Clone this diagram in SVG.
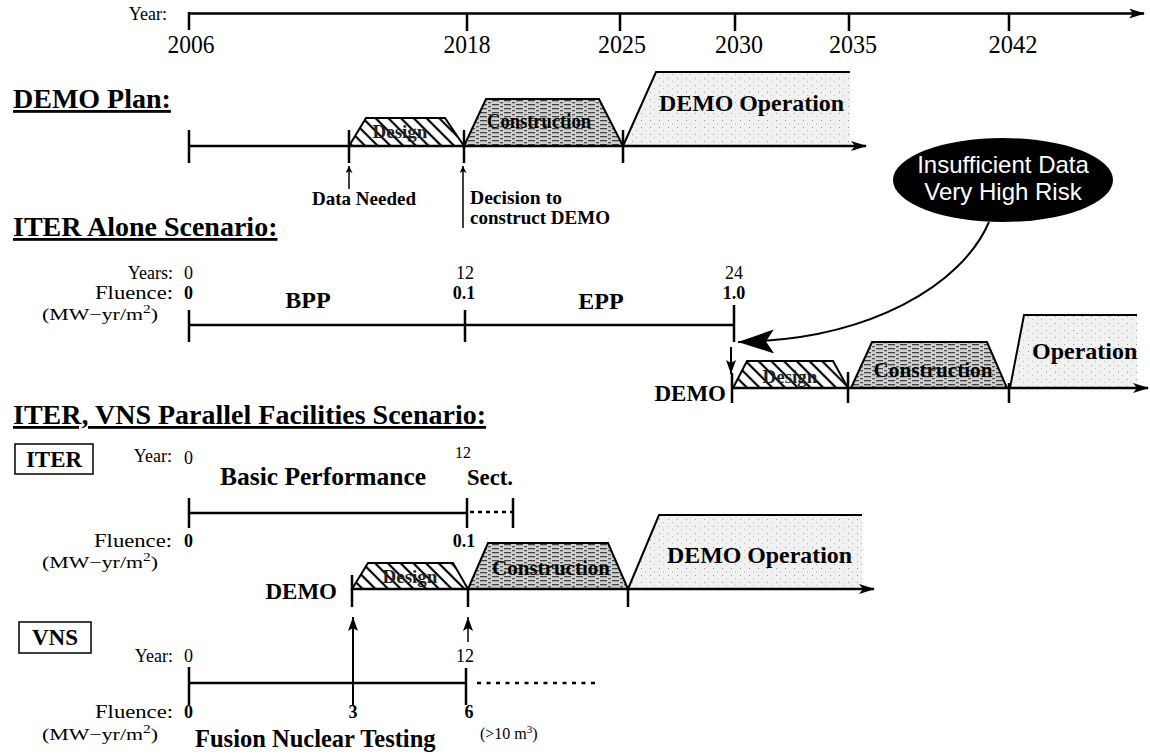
<svg xmlns="http://www.w3.org/2000/svg" width="1150" height="754" viewBox="0 0 1150 754">
<defs>
<style>
text{font-family:"Liberation Serif","Times New Roman",serif;fill:#000}
.b{font-weight:bold}
.yr{font-size:25px;text-anchor:middle}
.lab{font-size:18px}
.r{text-anchor:end}
.m{text-anchor:middle}
.title{font-size:28px;font-weight:bold;text-decoration:underline}
.ax{stroke:#000;stroke-width:2.5;fill:none}
.tk{stroke:#000;stroke-width:2.5;fill:none}
.edge{stroke:#000;stroke-width:2;fill:none}
.sans{font-family:"Liberation Sans",Arial,sans-serif;fill:#fff;font-size:24px;text-anchor:middle}
.des{fill:url(#hatch)}
.con{fill:url(#dots)}
.op{fill:url(#speck)}
.box{fill:#fff;stroke:#000;stroke-width:1.5}
.dl{font-size:19px;font-weight:bold;fill:#222}
.unit{font-size:17px}
</style>
<pattern id="hatch" patternUnits="userSpaceOnUse" width="9" height="9" patternTransform="rotate(-45)">
<rect width="9" height="9" fill="#fff"/>
<line x1="2" y1="0" x2="2" y2="9" stroke="#000" stroke-width="2.2"/>
</pattern>
<pattern id="dots" patternUnits="userSpaceOnUse" width="12" height="4">
<rect width="12" height="4" fill="#d0d0d0"/>
<rect x="0" y="0" width="7" height="1.3" fill="#444"/>
<rect x="8" y="2" width="3" height="1.3" fill="#555"/>
</pattern>
<pattern id="speck" patternUnits="userSpaceOnUse" width="9" height="7">
<rect width="9" height="7" fill="#f1f1f1"/>
<rect x="2" y="1" width="1" height="1" fill="#999"/>
<rect x="6" y="4" width="1" height="1" fill="#bbb"/>
</pattern>
<marker id="ah" viewBox="0 0 16 10" refX="15" refY="5" markerWidth="16" markerHeight="10" markerUnits="userSpaceOnUse" orient="auto">
<path d="M0,0 L16,5 L0,10 L4,5 z" fill="#000"/>
</marker>
<marker id="ahs" viewBox="0 0 8 8" refX="8" refY="4" markerWidth="8" markerHeight="7" markerUnits="userSpaceOnUse" orient="auto">
<path d="M0,0 L8,4 L0,8 L2,4 z" fill="#000"/>
</marker>
<marker id="ahm" viewBox="0 0 14 10" refX="14" refY="5" markerWidth="14" markerHeight="10" markerUnits="userSpaceOnUse" orient="auto">
<path d="M0,0 L14,5 L0,10 L3,5 z" fill="#000"/>
</marker>
<marker id="ahb" viewBox="0 0 36 24" refX="36" refY="12" markerWidth="36" markerHeight="24" markerUnits="userSpaceOnUse" orient="auto">
<path d="M0,0 L36,12 L0,24 L8,12 z" fill="#000"/>
</marker>
</defs>

<g id="year-axis">
<text x="167" y="20" font-size="18" class="r">Year:</text>
<line x1="189" y1="13.5" x2="1144" y2="13.5" class="ax" marker-end="url(#ah)"/>
<path d="M189,12 V30 M467,13 V31 M620,13 V31 M735,13 V31 M849,13 V31 M1009,13 V31" class="tk"/>
<text x="191" y="53" class="yr" textLength="47" lengthAdjust="spacingAndGlyphs">2006</text>
<text x="467" y="53" class="yr" textLength="47" lengthAdjust="spacingAndGlyphs">2018</text>
<text x="622" y="53" class="yr" textLength="48" lengthAdjust="spacingAndGlyphs">2025</text>
<text x="739" y="53" class="yr" textLength="48" lengthAdjust="spacingAndGlyphs">2030</text>
<text x="853" y="53" class="yr" textLength="48" lengthAdjust="spacingAndGlyphs">2035</text>
<text x="1013" y="53" class="yr" textLength="49" lengthAdjust="spacingAndGlyphs">2042</text>
</g>

<g id="demo-plan">
<text x="13" y="108" class="title">DEMO Plan:</text>
<polygon points="623,146 656,72 850,72 850,146" class="op"/>
<polyline points="623,146 656,72 850,72" class="edge"/>
<polygon points="349,146 366,118 445,118 464,146" class="des"/>
<polygon points="349,146 366,118 445,118 464,146" class="edge"/>
<polygon points="464,146 486,99 599,99 623,146" class="con"/>
<polygon points="464,146 486,99 599,99 623,146" class="edge"/>
<text x="400" y="138" class="dl m">Design</text>
<text x="539" y="128" class="b m" font-size="22" textLength="104" lengthAdjust="spacingAndGlyphs">Construction</text>
<text x="659" y="111" class="b" font-size="24" textLength="185" lengthAdjust="spacingAndGlyphs">DEMO Operation</text>
<line x1="189" y1="146" x2="866" y2="146" class="ax" marker-end="url(#ah)"/>
<path d="M189,130 V163 M349,130 V163 M464,130 V163 M623,130 V163" class="tk"/>
</g>

<g id="data-needed">
<line x1="349" y1="189" x2="349" y2="166" stroke="#000" stroke-width="1.5" marker-end="url(#ahs)"/>
<text x="312" y="205" class="b" font-size="19">Data Needed</text>
</g>

<g id="decision">
<line x1="463" y1="228" x2="463" y2="166" stroke="#000" stroke-width="1.5" marker-end="url(#ahs)"/>
<text x="470" y="204" class="b" font-size="18" textLength="92" lengthAdjust="spacingAndGlyphs">Decision to</text>
<text x="470" y="224" class="b" font-size="18" textLength="140" lengthAdjust="spacingAndGlyphs">construct DEMO</text>
</g>

<g id="risk-bubble">
<ellipse cx="1003" cy="180" rx="110" ry="42" fill="#000"/>
<text x="1003" y="173" class="sans">Insufficient Data</text>
<text x="1003" y="200" class="sans">Very High Risk</text>
</g>

<g id="iter-alone">
<text x="13" y="236" class="title">ITER Alone Scenario:</text>
<text x="173" y="279" class="lab r">Years:</text>
<text x="184" y="279" class="lab">0</text>
<text x="465" y="279" class="lab m">12</text>
<text x="734" y="279" class="lab m">24</text>
<text x="173" y="299" class="lab r" textLength="78" lengthAdjust="spacingAndGlyphs">Fluence:</text>
<text x="184" y="299" class="lab b">0</text>
<text x="464" y="299" class="lab b m">0.1</text>
<text x="734" y="299" class="lab b m">1.0</text>
<text x="308" y="308" class="b m" font-size="24">BPP</text>
<text x="601" y="309" class="b m" font-size="24">EPP</text>
<text x="42" y="320" class="unit" textLength="116" lengthAdjust="spacingAndGlyphs">(MW−yr/m<tspan dy="-7" font-size="12">2</tspan><tspan dy="7">)</tspan></text>
<line x1="189" y1="325" x2="734" y2="325" class="ax"/>
<path d="M189,310 V342 M465,310 V342 M734,305 V342" class="tk"/>
</g>

<g id="demo-late">
<polygon points="1010,388 1024,315 1137,315 1137,388" class="op"/>
<polyline points="1010,388 1024,315 1137,315" class="edge"/>
<polygon points="733,388 747,361 833,361 848,388" class="des"/>
<polygon points="733,388 747,361 833,361 848,388" class="edge"/>
<polygon points="851,388 872,342 987,342 1007,388" class="con"/>
<polygon points="851,388 872,342 987,342 1007,388" class="edge"/>
<text x="790" y="383" class="dl m">Design</text>
<text x="933" y="377" class="b m" font-size="22" textLength="119" lengthAdjust="spacingAndGlyphs">Construction</text>
<text x="1032" y="359" class="b" font-size="24">Operation</text>
<text x="726" y="401" class="b r" font-size="23">DEMO</text>
<line x1="732" y1="388" x2="1148" y2="388" class="ax" marker-end="url(#ah)"/>
<path d="M732,373 V403 M848,372 V403 M1009,383 V403" class="tk"/>
</g>

<g id="iter-vns">
<text x="13" y="424" class="title">ITER, VNS Parallel Facilities Scenario:</text>
</g>

<g id="iter-box">
<rect x="15" y="444" width="78" height="30" class="box"/>
<text x="54" y="467" class="b m" font-size="23">ITER</text>
</g>

<g id="iter-line">
<text x="172" y="462" class="lab r">Year:</text>
<text x="184" y="464" class="lab">0</text>
<text x="455" y="458" font-size="16">12</text>
<text x="220" y="485" class="b" font-size="25.5">Basic Performance</text>
<text x="467" y="485" class="b" font-size="24" textLength="46" lengthAdjust="spacingAndGlyphs">Sect.</text>
<line x1="189" y1="513" x2="467" y2="513" class="ax"/>
<line x1="470" y1="512" x2="513" y2="512" class="ax" stroke-dasharray="4,4"/>
<path d="M189,498 V528 M467,498 V528 M513,498 V528" class="tk"/>
<text x="172" y="547" class="lab r" textLength="78" lengthAdjust="spacingAndGlyphs">Fluence:</text>
<text x="184" y="547" class="lab b">0</text>
<text x="464" y="547" class="lab b m">0.1</text>
<text x="42" y="568" class="unit" textLength="116" lengthAdjust="spacingAndGlyphs">(MW−yr/m<tspan dy="-7" font-size="12">2</tspan><tspan dy="7">)</tspan></text>
</g>

<g id="demo-parallel">
<polygon points="628,589 659,515 862,515 862,589" class="op"/>
<polyline points="628,589 659,515 862,515" class="edge"/>
<polygon points="352,589 368,563 453,563 468,589" class="des"/>
<polygon points="352,589 368,563 453,563 468,589" class="edge"/>
<polygon points="468,589 488,543 608,543 628,589" class="con"/>
<polygon points="468,589 488,543 608,543 628,589" class="edge"/>
<text x="410" y="583" class="dl m">Design</text>
<text x="551" y="575" class="b m" font-size="22" textLength="118" lengthAdjust="spacingAndGlyphs">Construction</text>
<text x="667" y="563" class="b" font-size="24" textLength="185" lengthAdjust="spacingAndGlyphs">DEMO Operation</text>
<text x="337" y="599" class="b r" font-size="23">DEMO</text>
<line x1="352" y1="589" x2="874" y2="589" class="ax" marker-end="url(#ah)"/>
<path d="M352,575 V607 M468,589 V607 M628,589 V607" class="tk"/>
</g>

<g id="vns-box">
<rect x="19" y="622" width="72" height="31" class="box"/>
<text x="55" y="645" class="b m" font-size="23">VNS</text>
</g>

<g id="vns-line">
<text x="173" y="662" class="lab r">Year:</text>
<text x="184" y="662" class="lab">0</text>
<text x="465" y="662" class="lab m">12</text>
<line x1="189" y1="683" x2="466" y2="683" class="ax"/>
<line x1="477" y1="683" x2="600" y2="683" class="ax" stroke-dasharray="4,5.5"/>
<path d="M189,667 V705 M466,668 V705" class="tk"/>
<text x="173" y="718" class="lab r" textLength="78" lengthAdjust="spacingAndGlyphs">Fluence:</text>
<text x="184" y="718" class="lab b">0</text>
<text x="353" y="718" class="lab b m">3</text>
<text x="469" y="718" class="lab b m">6</text>
<text x="42" y="740" class="unit" textLength="116" lengthAdjust="spacingAndGlyphs">(MW−yr/m<tspan dy="-7" font-size="12">2</tspan><tspan dy="7">)</tspan></text>
<text x="195" y="747" class="b" font-size="24.5">Fusion Nuclear Testing</text>
<text x="480" y="739" font-size="16">(&gt;10 m<tspan dy="-6" font-size="11">3</tspan><tspan dy="6">)</tspan></text>
</g>

<g id="connectors">
<path d="M989,222 C962,285 870,340 738,342" stroke="#000" stroke-width="2" fill="none" marker-end="url(#ahb)"/>
<line x1="731" y1="347" x2="731" y2="374" stroke="#000" stroke-width="2" marker-end="url(#ahm)"/>
<line x1="353" y1="705" x2="353" y2="617" stroke="#000" stroke-width="2" marker-end="url(#ahm)"/>
<line x1="468" y1="642" x2="468" y2="617" stroke="#000" stroke-width="1.5" marker-end="url(#ahm)"/>
</g>
</svg>
